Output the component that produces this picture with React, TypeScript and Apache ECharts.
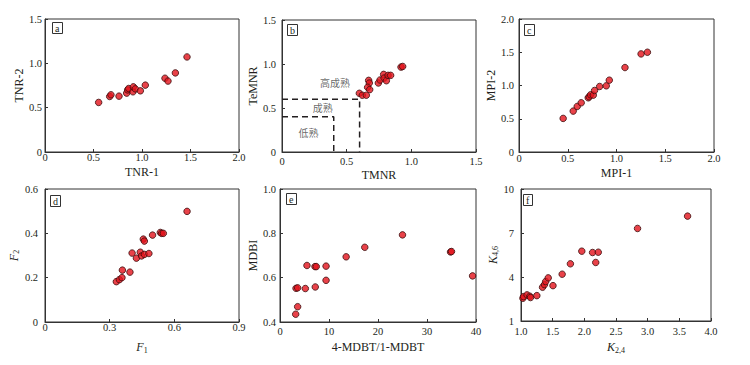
import React, { useEffect, useRef } from "react";
import * as echarts from "echarts";

// Panel a: TNR-1 vs TNR-2
const tnr1 = [0.553, 0.667, 0.68, 0.763, 0.842, 0.852, 0.863, 0.907, 0.911, 0.931, 0.983, 1.034, 1.237, 1.268, 1.344, 1.464];
const tnr2 = [0.559, 0.626, 0.645, 0.63, 0.664, 0.7, 0.716, 0.679, 0.735, 0.712, 0.69, 0.754, 0.832, 0.8, 0.892, 1.072];

// Panel b: TMNR vs TeMNR
const tmnr = [0.598, 0.621, 0.652, 0.67, 0.675, 0.662, 0.678, 0.745, 0.758, 0.786, 0.789, 0.807, 0.82, 0.84, 0.92, 0.933];
const temnr = [0.667, 0.645, 0.645, 0.814, 0.784, 0.735, 0.709, 0.784, 0.818, 0.882, 0.84, 0.81, 0.871, 0.871, 0.965, 0.972];
const matureBoundX = [0, 0.6, 0.6];
const matureBoundY = [0.6, 0.6, 0];
const lowBoundX = [0, 0.4, 0.4];
const lowBoundY = [0.4, 0.4, 0];
const zoneNames = ["高成熟", "成熟", "低熟"];
const zoneX = [0.41, 0.315, 0.205];
const zoneY = [0.795, 0.508, 0.224];

// Panel c: MPI-1 vs MPI-2
const mpi1 = [0.453, 0.556, 0.597, 0.638, 0.71, 0.72, 0.734, 0.762, 0.775, 0.827, 0.895, 0.926, 1.087, 1.252, 1.317];
const mpi2 = [0.505, 0.615, 0.685, 0.74, 0.815, 0.83, 0.86, 0.855, 0.925, 0.985, 0.995, 1.08, 1.27, 1.475, 1.5];

// Panel d: F1 vs F2
const f1 = [0.331, 0.345, 0.357, 0.359, 0.394, 0.404, 0.424, 0.442, 0.448, 0.461, 0.482, 0.456, 0.461, 0.499, 0.535, 0.541, 0.549, 0.659];
const f2 = [0.182, 0.191, 0.2, 0.234, 0.225, 0.311, 0.288, 0.315, 0.298, 0.305, 0.309, 0.374, 0.365, 0.392, 0.404, 0.4, 0.4, 0.499];

// Panel e: 4-MDBT/1-MDBT vs MDBI
const mdbtRatio = [3.2, 3.6, 3.27, 3.6, 5.17, 5.5, 7.14, 7.4, 7.2, 9.4, 9.4, 13.5, 17.3, 25.0, 34.8, 35.0, 39.3];
const mdbi = [0.435, 0.469, 0.552, 0.554, 0.551, 0.655, 0.65, 0.65, 0.558, 0.652, 0.588, 0.694, 0.737, 0.793, 0.716, 0.718, 0.608];

// Panel f: K2,4 vs K4,6
const k24 = [1.03, 1.04, 1.095, 1.14, 1.15, 1.25, 1.34, 1.37, 1.39, 1.43, 1.505, 1.65, 1.78, 1.96, 2.13, 2.18, 2.22, 2.84, 3.63];
const k46 = [2.55, 2.66, 2.78, 2.69, 2.6, 2.73, 3.3, 3.48, 3.69, 3.94, 3.41, 4.19, 4.9, 5.76, 5.67, 4.99, 5.69, 7.31, 8.15];
const k46Ticks = [1, 4, 7, 10];

const FONT = "Liberation Serif";
const CJK = "Noto Sans CJK SC";
const INK = "#231f20";
const AXIS = "#333333";

const fmt1 = (v: number) => (v === 0 ? "0" : v.toFixed(1));
const fmtInt = (v: number) => String(Math.round(v));

const pairs = (xs: number[], ys: number[]) => xs.map((x, i) => [x, ys[i]]);

const richName = {
  i: { fontStyle: "italic", fontSize: 12, fontFamily: FONT, color: INK },
  s: { fontSize: 8, fontFamily: FONT, color: INK, padding: [6, 0, 0, 0] },
  n: { fontSize: 12, fontFamily: FONT, color: INK },
};

export default function App() {
  const ref = useRef<HTMLDivElement>(null);
  useEffect(() => {
    if (!ref.current) return;
    const chart = echarts.init(ref.current, undefined, { renderer: "svg" });

    const panels = [
      { tag: "a", grid: { left: 45, top: 19, width: 194, height: 133 }, x: { min: 0, max: 2, interval: 0.5, fmt: fmt1, name: "{n|TNR-1}", gap: 14, m: 0 }, y: { min: 0, max: 1.5, interval: 0.5, fmt: fmt1, name: "{n|TNR-2}", gap: 19, m: 3 }, data: pairs(tnr1, tnr2), lab: [52, 22] },
      { tag: "b", grid: { left: 282, top: 20, width: 194, height: 132 }, x: { min: 0, max: 1.5, interval: 0.5, fmt: fmt1, name: "{n|TMNR}", gap: 17, m: 4 }, y: { min: 0, max: 1.5, interval: 0.5, fmt: fmt1, name: "{n|TeMNR}", gap: 20, m: 6 }, data: pairs(tmnr, temnr), lab: [287, 24] },
      { tag: "c", grid: { left: 519, top: 19, width: 195, height: 133 }, x: { min: 0, max: 2, interval: 0.5, fmt: fmt1, name: "{n|MPI-1}", gap: 15, m: 1 }, y: { min: 0, max: 2, interval: 0.5, fmt: fmt1, name: "{n|MPI-2}", gap: 17, m: 5 }, data: pairs(mpi1, mpi2), lab: [524, 24] },
      { tag: "d", grid: { left: 45, top: 189, width: 194, height: 133 }, x: { min: 0, max: 0.9, interval: 0.3, fmt: fmt1, name: "{i|F}{s|1}", gap: 18, m: 0 }, y: { min: 0, max: 0.6, interval: 0.2, fmt: fmt1, name: "{i|F}{s|2}", gap: 20, m: 7 }, data: pairs(f1, f2), lab: [50, 195] },
      { tag: "e", grid: { left: 280, top: 189, width: 196, height: 133 }, x: { min: 0, max: 40, interval: 10, fmt: fmtInt, name: "{n|4-MDBT/1-MDBT}", gap: 19, m: 4 }, y: { min: 0.4, max: 1.0, interval: 0.2, fmt: fmt1, name: "{n|MDBI}", gap: 16, m: 4 }, data: pairs(mdbtRatio, mdbi), lab: [286, 193] },
      { tag: "f", grid: { left: 521, top: 189, width: 190, height: 132 }, x: { min: 1, max: 4, interval: 0.5, fmt: fmt1, name: "{i|K}{s|2,4}", gap: 19, m: 5 }, y: { min: 1, max: 10, custom: k46Ticks, fmt: fmtInt, name: "{i|K}{s|4,6}", gap: 16, m: 7 }, data: pairs(k24, k46), lab: [523, 194] },
    ];

    const axisCommon = {
      axisLine: { show: true, onZero: false, lineStyle: { color: AXIS, width: 1 } },
      axisTick: { show: true, inside: true, length: 3, lineStyle: { color: AXIS } },
      splitLine: { show: false },
      nameLocation: "middle",
      nameTextStyle: { rich: richName },
    };

    const grids = panels.map((p) => ({ ...p.grid, show: true, borderColor: AXIS, borderWidth: 1, containLabel: false }));
    const xAxes = panels.map((p, i) => ({
      ...axisCommon,
      type: "value",
      gridIndex: i,
      min: p.x.min,
      max: p.x.max,
      interval: p.x.interval,
      name: p.x.name,
      nameGap: p.x.gap,
      axisLabel: { margin: p.x.m, fontSize: 10.5, fontFamily: FONT, color: INK, formatter: p.x.fmt, showMinLabel: true, showMaxLabel: true },
    }));
    const yAxes = panels.map((p: any, i) => {
      const ax: any = {
        ...axisCommon,
        type: "value",
        gridIndex: i,
        min: p.y.min,
        max: p.y.max,
        name: p.y.name,
        nameGap: p.y.gap,
        axisLabel: { margin: p.y.m, fontSize: 10.5, fontFamily: FONT, color: INK, formatter: p.y.fmt, showMinLabel: true, showMaxLabel: true },
      };
      if (p.y.custom) {
        ax.axisLabel.customValues = p.y.custom;
        ax.axisTick = { ...ax.axisTick, customValues: p.y.custom };
      } else {
        ax.interval = p.y.interval;
      }
      return ax;
    });

    const series: any[] = [];
    // Panel b boundaries
    series.push({
      type: "line", xAxisIndex: 1, yAxisIndex: 1, data: pairs(matureBoundX, matureBoundY), symbol: "none",
      lineStyle: { color: INK, width: 1.5, type: [6, 4] }, silent: true, z: 1,
    });
    series.push({
      type: "line", xAxisIndex: 1, yAxisIndex: 1, data: pairs(lowBoundX, lowBoundY), symbol: "none",
      lineStyle: { color: INK, width: 1.5, type: [6, 4] }, silent: true, z: 1,
    });
    series.push({
      type: "scatter", xAxisIndex: 1, yAxisIndex: 1, symbolSize: 1, itemStyle: { color: "rgba(0,0,0,0)" },
      data: zoneNames.map((n, i) => ({ name: n, value: [zoneX[i], zoneY[i]] })),
      label: { show: true, position: "inside", formatter: "{b}", fontFamily: CJK, fontSize: 10, color: "#444444" },
      z: 2,
    });
    panels.forEach((p, i) => {
      series.push({
        type: "scatter", xAxisIndex: i, yAxisIndex: i, data: p.data, symbolSize: 6.5,
        itemStyle: { color: "#e3131b", borderColor: "#3b0d0d", borderWidth: 1 }, z: 3,
      });
    });

    const titles = panels.map((p) => ({
      text: p.tag, left: p.lab[0], top: p.lab[1], padding: [1, 3, 1, 3], borderColor: AXIS, borderWidth: 1,
      textStyle: { fontFamily: FONT, fontSize: 10, fontWeight: "normal", color: INK },
    }));

    chart.setOption({
      animation: false,
      backgroundColor: "#ffffff",
      textStyle: { fontFamily: FONT },
      title: titles,
      grid: grids,
      xAxis: xAxes,
      yAxis: yAxes,
      series,
    });
    return () => chart.dispose();
  }, []);
  return <div ref={ref} style={{ position: "fixed", left: 0, top: 0, width: 750, height: 365 }} />;
}
